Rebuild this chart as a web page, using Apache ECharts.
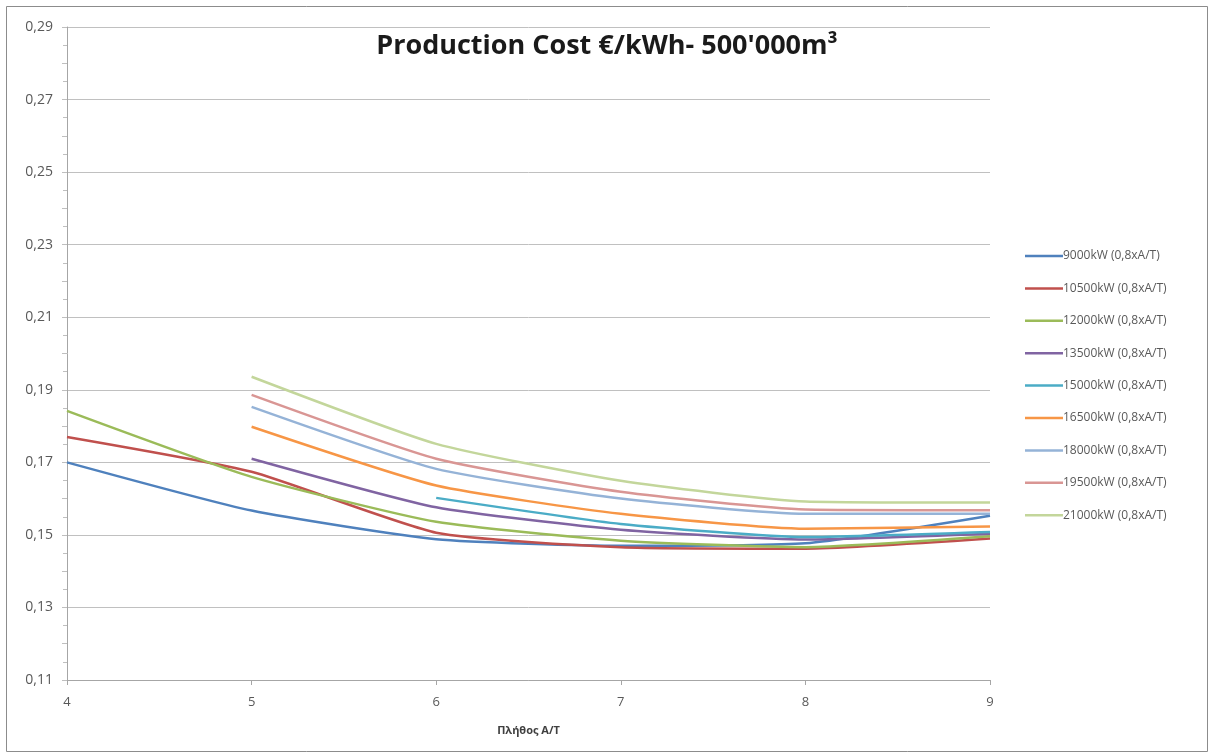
<!DOCTYPE html>
<html>
<head>
<meta charset="utf-8">
<script src="https://cdn.jsdelivr.net/npm/echarts@6/dist/echarts.min.js"></script>
<style>
  html, body { margin: 0; padding: 0; background: #ffffff; }
  #chart { width: 1214px; height: 755px; }
</style>
</head>
<body>
<div id="chart"></div>
<script>
// Number of units (x) and production cost in €/kWh for each installed power
const units = [4, 5, 6, 7, 8, 9];
const seriesNames = [
  '9000kW (0,8xA/T)', '10500kW (0,8xA/T)', '12000kW (0,8xA/T)',
  '13500kW (0,8xA/T)', '15000kW (0,8xA/T)', '16500kW (0,8xA/T)',
  '18000kW (0,8xA/T)', '19500kW (0,8xA/T)', '21000kW (0,8xA/T)'
];
const cost9000  = [0.1700, 0.1567, 0.1488, 0.1470, 0.1477, 0.1553];
const cost10500 = [0.1770, 0.1674, 0.1506, 0.1466, 0.1462, 0.1490];
const cost12000 = [0.1842, 0.1660, 0.1536, 0.1484, 0.1466, 0.1496];
const cost13500 = [null,   0.1710, 0.1576, 0.1514, 0.1487, 0.1503];
const cost15000 = [null,   null,   0.1602, 0.1530, 0.1494, 0.1508];
const cost16500 = [null,   0.1798, 0.1636, 0.1558, 0.1517, 0.1523];
const cost18000 = [null,   0.1853, 0.1682, 0.1600, 0.1558, 0.1558];
const cost19500 = [null,   0.1886, 0.1710, 0.1619, 0.1570, 0.1568];
const cost21000 = [null,   0.1936, 0.1751, 0.1649, 0.1592, 0.1589];
const allCosts = [cost9000, cost10500, cost12000, cost13500, cost15000,
                  cost16500, cost18000, cost19500, cost21000];
const colors = ['#4F81BD', '#C0504D', '#9BBB59', '#8064A2', '#4BACC6',
                '#F79646', '#95B3D7', '#D99694', '#C3D69B'];

const yMin = 0.11, yMax = 0.29;
const labelFont = '"Open Sans", "Liberation Sans", sans-serif';

const series = allCosts.map((vals, i) => ({
  name: seriesNames[i],
  type: 'line',
  data: units.map((u, k) => [u, vals[k]]),
  symbol: 'none',
  smooth: 0.18,
  connectNulls: false,
  lineStyle: { width: 2.5, color: colors[i] },
  itemStyle: { color: colors[i] },
  emphasis: { disabled: true }
}));

const chart = echarts.init(document.getElementById('chart'), null, { renderer: 'canvas' });
chart.setOption({
  animation: false,
  backgroundColor: '#ffffff',
  title: {
    text: "Production Cost €/kWh- 500'000m³",
    left: 'center',
    top: 28,
    textStyle: { fontFamily: labelFont, fontWeight: 'bold', fontSize: 27, color: '#1a1a1a' }
  },
  grid: { left: 67, right: 224, top: 27, bottom: 75 },
  legend: {
    orient: 'vertical',
    left: 1020,
    top: 244,
    icon: 'rect',
    itemWidth: 38,
    itemHeight: 2.5,
    itemGap: 18.4,
    data: seriesNames,
    textStyle: { fontFamily: labelFont, fontSize: 12, lineHeight: 14, color: '#595959', padding: [0, 0, 0, -5] }
  },
  xAxis: {
    type: 'value',
    min: 4, max: 9, interval: 1,
    name: 'Πλήθος Α/Τ',
    nameLocation: 'middle',
    nameGap: 45,
    nameTextStyle: { fontFamily: labelFont, fontSize: 11, fontWeight: 'bold', color: '#404040' },
    axisLine: { lineStyle: { color: '#a6a6a6', width: 1 } },
    axisTick: { show: true, length: 5, lineStyle: { color: '#a6a6a6' } },
    axisLabel: { margin: 16, fontFamily: labelFont, fontSize: 13, color: '#595959' },
    splitLine: { show: false }
  },
  yAxis: {
    type: 'value',
    min: yMin, max: yMax, interval: 0.01,
    axisLine: { show: true, lineStyle: { color: '#a6a6a6', width: 1 } },
    axisTick: { show: true, length: 5, lineStyle: { color: '#bfbfbf' } },
    minorTick: { show: true, splitNumber: 2, length: 4, lineStyle: { color: '#bfbfbf' } },
    axisLabel: {
      margin: 14,
      fontFamily: labelFont, fontSize: 14, color: '#595959',
      formatter: v => {
        const h = Math.round(v * 100);
        return h % 2 === 1 ? (h / 100).toFixed(2).replace('.', ',') : '';
      }
    },
    splitLine: { show: true, lineStyle: { color: ['#c0c0c0', 'rgba(0,0,0,0)'], width: 1 } }
  },
  graphic: [{
    type: 'rect',
    shape: { x: 6.5, y: 6.5, width: 1201, height: 745 },
    style: { fill: 'none', stroke: '#8c8c8c', lineWidth: 1 },
    silent: true, z: 100
  }],
  series: series
});
</script>
</body>
</html>
